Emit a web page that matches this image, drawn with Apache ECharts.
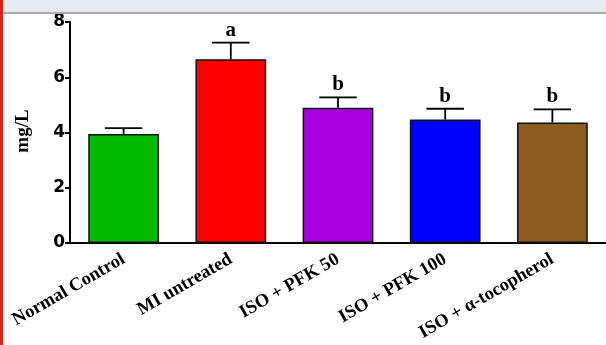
<!DOCTYPE html>
<html><head><meta charset="utf-8">
<script src="https://cdn.jsdelivr.net/npm/echarts@6/dist/echarts.min.js"></script>
<style>html,body{margin:0;padding:0;background:#fff}#c{width:606px;height:345px}</style></head>
<body><div id="c"></div><script>
const categories = ['Normal Control', 'MI untreated', 'ISO + PFK 50', 'ISO + PFK 100', 'ISO + α-tocopherol'];
const values = [3.95, 6.65, 4.9, 4.47, 4.36];
const errors = [0.21, 0.6, 0.37, 0.39, 0.48];
const letters = ['', 'a', 'b', 'b', 'b'];
const colors = ['#00b900', '#ff0000', '#a600e0', '#0000ff', '#8c5a1e'];
const yAxisTitle = 'mg/L';

const chart = echarts.init(document.getElementById('c'), null, {renderer: 'canvas'});
const serif = '"Liberation Serif", "Times New Roman", serif';
chart.setOption({
  animation: false,
  backgroundColor: '#ffffff',
  grid: {left: 70, right: 0, top: 22, bottom: 102, containLabel: false},
  xAxis: {
    type: 'category', data: categories,
    axisLine: {lineStyle: {color: '#000', width: 2}},
    axisTick: {alignWithLabel: true, length: 5, lineStyle: {color: '#000', width: 2}},
    axisLabel: {rotate: 30, margin: 15, color: '#000', fontFamily: serif, fontWeight: 'bold', fontSize: 18.5, interval: 0}
  },
  yAxis: {
    type: 'value', min: 0, max: 8, interval: 2,
    axisLine: {show: true, lineStyle: {color: '#000', width: 2}},
    axisTick: {show: true, length: 5, lineStyle: {color: '#000', width: 2}},
    splitLine: {show: false},
    axisLabel: {margin: 5, color: '#000', fontFamily: '"DejaVu Sans", sans-serif', fontWeight: 'bold', fontSize: 17}
  },
  graphic: [
    {type: 'rect', shape: {x: 0, y: 0, width: 606, height: 12}, style: {fill: '#e4eaf1'}, z: 100},
    {type: 'rect', shape: {x: 0, y: 12, width: 606, height: 2}, style: {fill: '#a9abad'}, z: 100},
    {type: 'rect', shape: {x: 0, y: 0, width: 3, height: 345}, style: {fill: '#dc2318'}, z: 100},
    {type: 'text', x: 23, y: 131, rotation: Math.PI / 2,
     style: {text: yAxisTitle, fill: '#000', font: 'bold 19px ' + serif, textAlign: 'center', textVerticalAlign: 'middle'}}
  ],
  series: [
    {
      type: 'bar', barCategoryGap: '34%',
      data: values.map((v, i) => ({value: v, itemStyle: {color: colors[i]}})),
      itemStyle: {borderColor: '#111', borderWidth: 1.5}
    },
    {
      type: 'custom',
      data: values.map((v, i) => [i, v, errors[i]]),
      renderItem: function (params, api) {
        const i = api.value(0), v = api.value(1), e = api.value(2);
        const top = api.coord([i, v + e]);
        const base = api.coord([i, v]);
        const hw = api.size([1, 0])[0] * 0.175;
        const children = [
          {type: 'line', shape: {x1: top[0], y1: top[1], x2: base[0], y2: base[1]}, style: {stroke: '#000', lineWidth: 1.8}},
          {type: 'line', shape: {x1: top[0] - hw, y1: top[1], x2: top[0] + hw, y2: top[1]}, style: {stroke: '#000', lineWidth: 1.8}}
        ];
        if (letters[i]) {
          children.push({type: 'text', x: top[0], y: top[1] - 2,
            style: {text: letters[i], fill: '#000', font: 'bold 21px ' + serif, textAlign: 'center', textVerticalAlign: 'bottom'}});
        }
        return {type: 'group', children: children};
      },
      z: 10
    }
  ]
});
</script></body></html>
